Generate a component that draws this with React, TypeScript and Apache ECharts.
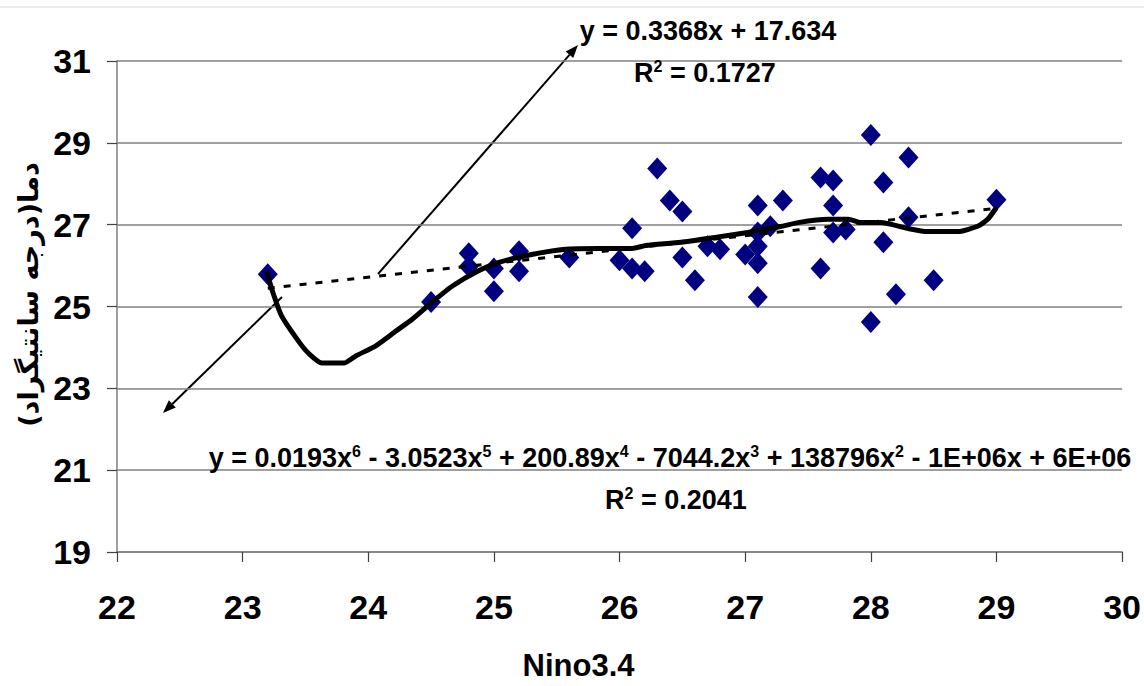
import React, { useEffect, useRef } from 'react';
import * as echarts from 'echarts';

// ---- data ----
const scatterX = [23.2, 24.5, 24.8, 24.8, 25.0, 25.0, 25.2, 25.2, 25.6, 26.0, 26.1, 26.1, 26.2, 26.3, 26.4, 26.5, 26.5, 26.6, 26.7, 26.8, 27.0, 27.1, 27.1, 27.1, 27.1, 27.1, 27.2, 27.3, 27.6, 27.6, 27.7, 27.7, 27.7, 27.8, 28.0, 28.0, 28.1, 28.1, 28.2, 28.3, 28.3, 28.5, 29.0];
const scatterY = [25.79, 25.11, 26.3, 25.98, 25.37, 25.93, 26.35, 25.86, 26.2, 26.13, 26.91, 25.93, 25.86, 28.37, 27.59, 27.32, 26.2, 25.64, 26.47, 26.4, 26.27, 27.47, 26.81, 26.47, 26.06, 25.23, 26.96, 27.59, 28.15, 25.93, 28.08, 27.47, 26.81, 26.88, 29.19, 24.62, 28.03, 26.57, 25.3, 28.64, 27.18, 25.64, 27.61];

// 6th-order polynomial trend curve as drawn in the picture
const polyX = [23.19, 23.24, 23.31, 23.45, 23.53, 23.63, 23.81, 23.9, 24.06, 24.22, 24.35, 24.51, 24.67, 24.87, 25.04, 25.3, 25.57, 25.83, 26.1, 26.21, 26.49, 26.76, 27.02, 27.29, 27.42, 27.66, 27.82, 27.92, 28.08, 28.29, 28.45, 28.69, 28.85, 28.93, 29.0];
const polyY = [25.86, 25.35, 24.77, 24.13, 23.84, 23.62, 23.62, 23.79, 24.04, 24.4, 24.69, 25.11, 25.5, 25.86, 26.08, 26.27, 26.4, 26.42, 26.42, 26.49, 26.57, 26.69, 26.81, 26.96, 27.05, 27.13, 27.13, 27.05, 27.05, 26.91, 26.83, 26.83, 26.96, 27.13, 27.42];

// linear trend line (from the printed equation)
const linSlope = 0.3368;
const linIntercept = 17.634;
const linRange = [23.2, 29.0];

const xTickMin = 22, xTickMax = 30, xStep = 1;
const yTickMin = 19, yTickMax = 31, yStep = 2;

const linearEq = 'y = 0.3368x + 17.634';
const linearR2 = 'R{s|2} = 0.1727';
const polyEq = 'y = 0.0193x{s|6} - 3.0523x{s|5} + 200.89x{s|4} - 7044.2x{s|3} + 138796x{s|2} - 1E+06x + 6E+06';
const polyR2 = 'R{s|2} = 0.2041';
const xName = 'Nino3.4';
const yName = 'دما(درجه سانتیگراد)';

const FONT = '"Liberation Sans", Arial, Helvetica, sans-serif';

function arrow(x1: number, y1: number, x2: number, y2: number) {
  const a = Math.atan2(y2 - y1, x2 - x1);
  const L = 13, W = 5;
  const c = Math.cos(a), s = Math.sin(a);
  const bx = x2 - L * c, by = y2 - L * s;
  return [
    { type: 'line', shape: { x1, y1, x2: bx, y2: by }, style: { stroke: '#000', lineWidth: 2 } },
    { type: 'polygon', shape: { points: [[x2, y2], [bx - W * s, by + W * c], [bx + W * s, by - W * c]] }, style: { fill: '#000' } },
  ];
}

function eqText(text: string, x: number, y: number) {
  return {
    type: 'text',
    style: {
      text, x, y, align: 'center', verticalAlign: 'middle',
      fontFamily: FONT, fontWeight: 'bold', fontSize: 27, fill: '#000', lineHeight: 30,
      rich: { s: { fontFamily: FONT, fontWeight: 'bold', fontSize: 16, verticalAlign: 'top', lineHeight: 30, fill: '#000' } },
    },
    z: 10,
  };
}

export default function App() {
  const ref = useRef<HTMLDivElement>(null);
  useEffect(() => {
    const chart = echarts.init(ref.current!, null, { renderer: 'svg' });
    const scatter = scatterX.map((x, i) => [x, scatterY[i]]);
    const poly = polyX.map((x, i) => [x, polyY[i]]);
    const lin = linRange.map((x) => [x, linSlope * x + linIntercept]);
    const labelStyle = { fontFamily: FONT, fontWeight: 'bold' as const, fontSize: 34, color: '#000' };
    chart.setOption({
      animation: false,
      backgroundColor: '#fff',
      grid: { left: 117, top: 61, width: 1008, height: 493, containLabel: false },
      xAxis: {
        type: 'value', min: xTickMin, max: xTickMax, interval: xStep,
        name: xName, nameLocation: 'middle', nameGap: 98,
        nameTextStyle: { fontFamily: FONT, fontWeight: 'bold', fontSize: 31, color: '#000', padding: [0, 82, 0, 0] },
        axisLine: { lineStyle: { color: '#808080', width: 1.5 } },
        axisTick: { inside: false, length: 10, lineStyle: { color: '#404040', width: 1.2 } },
        axisLabel: { ...labelStyle, margin: 38 },
        splitLine: { show: false },
      },
      yAxis: {
        type: 'value', min: yTickMin, max: yTickMax, interval: yStep,
        name: yName, nameLocation: 'middle', nameGap: 64, nameRotate: 90,
        nameTextStyle: { fontFamily: '"DejaVu Sans", sans-serif', fontWeight: 'bold', fontSize: 27, color: '#000', padding: [0, 0, 0, 24] },
        axisLine: { show: true, lineStyle: { color: '#808080', width: 1.5 } },
        axisTick: { show: true, inside: false, length: 10, lineStyle: { color: '#404040', width: 1.2 } },
        axisLabel: { ...labelStyle, margin: 26 },
        splitLine: { show: true, lineStyle: { color: '#808080', width: 1.5 } },
      },
      series: [
        {
          type: 'scatter', data: scatter, symbol: 'diamond', symbolSize: [20, 22],
          itemStyle: { color: '#000080', opacity: 1 }, z: 2,
        },
        {
          type: 'line', data: lin, showSymbol: false, symbol: 'none',
          lineStyle: { color: '#000', width: 3, type: [7, 9] }, z: 3,
        },
        {
          type: 'line', data: poly, showSymbol: false, symbol: 'none', smooth: 0.2,
          lineStyle: { color: '#000', width: 5 }, z: 4,
        },
      ],
      graphic: [
        { type: 'line', shape: { x1: 0, y1: 7, x2: 1144, y2: 7 }, style: { stroke: '#d9d9d9', lineWidth: 1 } },
        ...arrow(378, 274, 578, 45),
        ...arrow(282, 297, 163, 413),
        eqText(linearEq, 708, 31),
        eqText(linearR2, 705, 73),
        eqText(polyEq, 670, 458),
        eqText(polyR2, 676, 500),
      ],
    });
    return () => chart.dispose();
  }, []);
  return <div ref={ref} style={{ position: 'absolute', left: 0, top: 0, width: 1144, height: 686, background: '#fff' }} />;
}
